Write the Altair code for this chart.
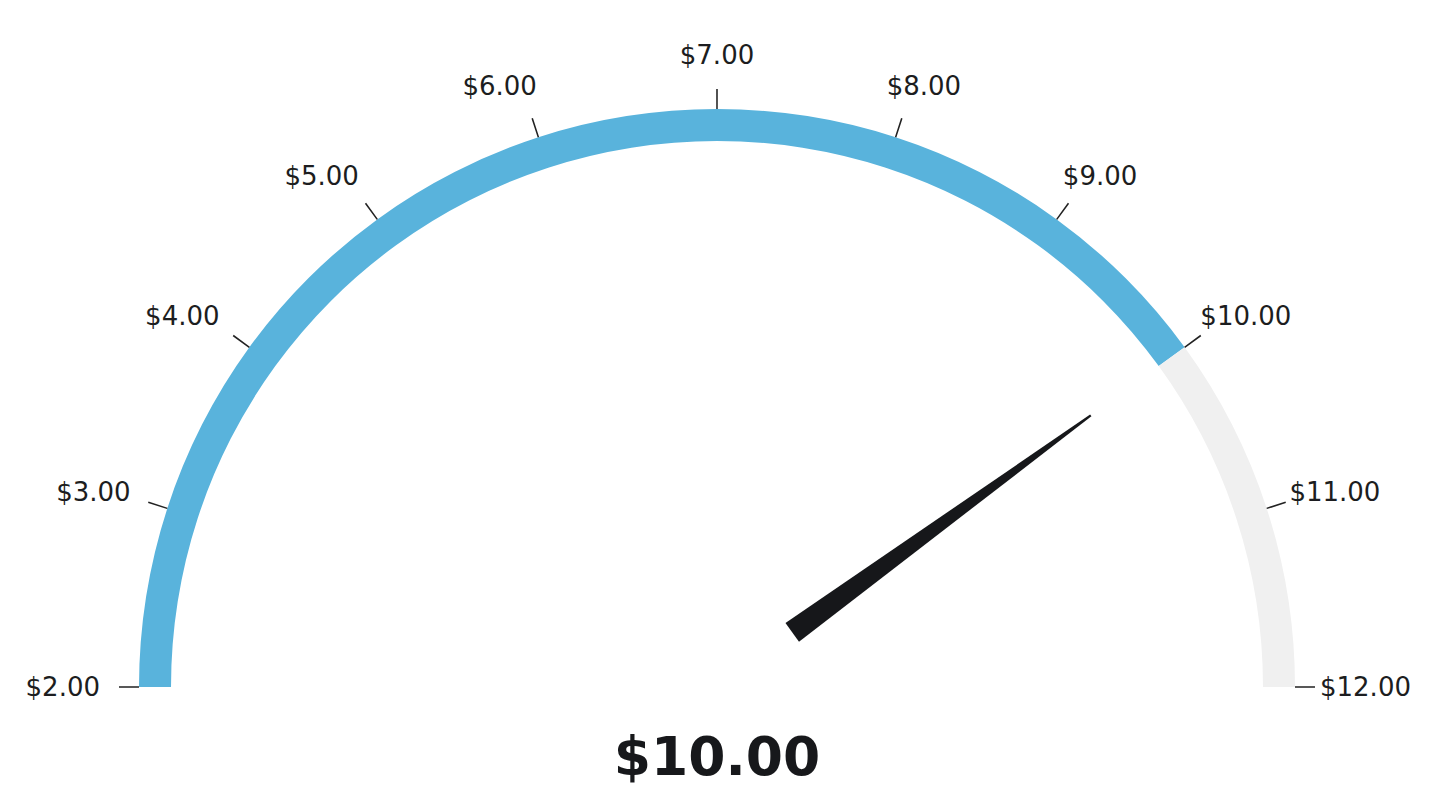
import math
import altair as alt
import pandas as pd

# ---- data ----
gauge_min = 2.0
gauge_max = 12.0
current_value = 10.0
tick_values = [2, 3, 4, 5, 6, 7, 8, 9, 10, 11, 12]
band_names = ["filled", "remaining"]
band_colors = ["#59b3dc", "#f0f0f0"]

# ---- layout constants ----
W, H = 1434, 780
CX, CY = 709, 679          # gauge centre in chart pixels
R_OUT, R_IN = 578, 546     # band radii
TICK_IN, TICK_OUT = 578, 598
NEEDLE_IN, NEEDLE_OUT = 93, 462
NEEDLE_HALF_W = 11.5
LABEL_FONT = "DejaVu Sans"
LABEL_SIZE = 26
LABEL_GAP = 12
LABEL_SHIFT = 7
TEXT_COLOR = "#1c1d20"

needle_len = NEEDLE_OUT - NEEDLE_IN
needle_mid = (NEEDLE_OUT + NEEDLE_IN) / 2
hw = NEEDLE_HALF_W / (needle_len / 2)
NEEDLE_PATH = f"M {-hw:.4f} 1 L -0.006 -1 L 0.006 -1 L {hw:.4f} 1 Z"
NEEDLE_SIZE = needle_len ** 2

ANG = f"(-PI/2 + (datum.v - {gauge_min}) / ({gauge_max} - {gauge_min}) * PI)"
PHI = f"((datum.v - {gauge_min}) / ({gauge_max} - {gauge_min}) * PI)"

theta_scale = alt.Scale(domain=[gauge_min, gauge_max], range=[-math.pi / 2, math.pi / 2])

bands = pd.DataFrame({
    "band": band_names,
    "start": [gauge_min, current_value],
    "end": [current_value, gauge_max],
})
ticks = pd.DataFrame({"v": tick_values})
needle = pd.DataFrame({"v": [current_value]})

band_layer = alt.Chart(bands).mark_arc(radius=R_OUT, radius2=R_IN).encode(
    theta=alt.Theta("start:Q", scale=theta_scale, stack=None),
    theta2="end:Q",
    color=alt.Color("band:N", scale=alt.Scale(domain=band_names, range=band_colors), legend=None),
    x=alt.value(CX),
    y=alt.value(CY),
)

EPS = 0.0042
tick_layer = alt.Chart(ticks).transform_calculate(
    a=f"datum.v - {EPS}", b=f"datum.v + {EPS}"
).mark_arc(radius=TICK_OUT, radius2=TICK_IN, color="#222222").encode(
    theta=alt.Theta("a:Q", scale=theta_scale, stack=None),
    theta2="b:Q",
    x=alt.value(CX),
    y=alt.value(CY),
)

label_layer = alt.Chart(ticks).transform_calculate(
    label="'$' + format(datum.v, '.2f')",
    phi=PHI,
).transform_calculate(
    w=f"{LABEL_SIZE} * (0.636 * (length(datum.label) - 1) + 0.318)",
    c="cos(datum.phi)",
    s="sin(datum.phi)",
).transform_calculate(
    lx=(f"{CX} - {TICK_OUT} * datum.c"
        f" - (datum.c >= 0 ? 1 : -1) * (datum.w / 2 + {LABEL_GAP}) * sqrt(abs(datum.c))"
        f" - {LABEL_SHIFT} * pow(abs(datum.c), 0.25)"),
    ly=f"{CY} - {TICK_OUT} * datum.s - 34 * datum.s + 1",
).mark_text(
    font=LABEL_FONT, fontSize=LABEL_SIZE, color=TEXT_COLOR, align="center", baseline="middle",
).encode(
    x=alt.X("lx:Q", scale=None, axis=None),
    y=alt.Y("ly:Q", scale=None, axis=None),
    text="label:N",
)

needle_layer = alt.Chart(needle).transform_calculate(
    ang=ANG,
).transform_calculate(
    deg="datum.ang * 180 / PI",
    nx=f"{CX} + {needle_mid} * sin(datum.ang)",
    ny=f"{CY} - {needle_mid} * cos(datum.ang)",
).mark_point(
    shape=NEEDLE_PATH, size=NEEDLE_SIZE, filled=True, opacity=1, color="#16171a", strokeWidth=0
).encode(
    x=alt.X("nx:Q", scale=None, axis=None),
    y=alt.Y("ny:Q", scale=None, axis=None),
    angle=alt.Angle("deg:Q", scale=None),
)

value_layer = alt.Chart(needle).transform_calculate(
    label="'$' + format(datum.v, '.2f')"
).mark_text(
    font=LABEL_FONT, fontSize=53.5, fontWeight="bold", color="#17181b",
    align="center", baseline="alphabetic",
).encode(
    text="label:N",
    x=alt.value(CX),
    y=alt.value(767),
)

chart = alt.layer(band_layer, tick_layer, label_layer, needle_layer, value_layer).properties(
    width=W, height=H, padding=0, autosize=alt.AutoSizeParams(type="none")
).configure_view(stroke=None)

chart.save("out.html", embed_options={"renderer": "svg", "actions": False})
